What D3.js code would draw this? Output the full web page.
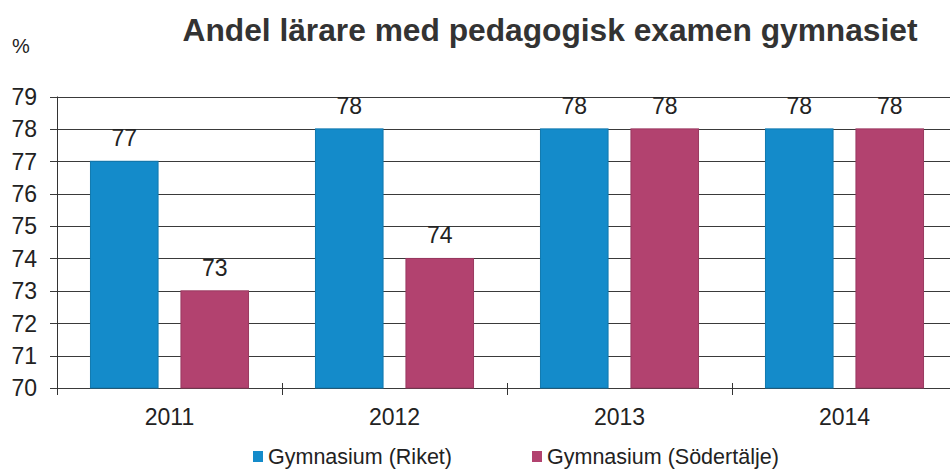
<!DOCTYPE html>
<html>
<head>
<meta charset="utf-8">
<script src="https://cdn.jsdelivr.net/npm/d3@7/dist/d3.min.js"></script>
<style>
  html, body { margin: 0; padding: 0; background: #fff; }
  svg { display: block; font-family: Arial, "Liberation Sans", sans-serif; }
</style>
</head>
<body>
<svg id="chart" width="950" height="472"></svg>
<script>
const years = ["2011", "2012", "2013", "2014"];
const seriesNames = ["Gymnasium (Riket)", "Gymnasium (Södertälje)"];
const riket = [77, 78, 78, 78];
const sodertalje = [73, 74, 78, 78];
const yTicks = [70, 71, 72, 73, 74, 75, 76, 77, 78, 79];
const colors = ["#148bca", "#b2426f"];
const title = "Andel lärare med pedagogisk examen gymnasiet";

(function () {
const svg = d3.select("#chart");
const pLeft = 57, pRight = 957, pTop = 96.5, pBottom = 388;

const x = d3.scaleBand().domain(years).range([pLeft, pRight]).paddingInner(0).paddingOuter(0);
const xs = d3.scaleBand().domain(seriesNames).range([0, x.bandwidth()]).paddingInner(0.253).paddingOuter(0.37);
const y = d3.scaleLinear().domain([70, 79]).range([pBottom, pTop]);

// gridlines
svg.append("g").selectAll("line").data(yTicks).join("line")
  .attr("x1", pLeft - 7).attr("x2", 950)
  .attr("y1", d => Math.round(y(d)) + 0.5).attr("y2", d => Math.round(y(d)) + 0.5)
  .attr("stroke", "#3a3a3a").attr("stroke-width", 1);

// y axis line
svg.append("line").attr("x1", pLeft + 0.5).attr("x2", pLeft + 0.5)
  .attr("y1", pTop).attr("y2", pBottom + 7).attr("stroke", "#333");

// x category tick marks
svg.append("g").selectAll("line").data(years.slice(1)).join("line")
  .attr("x1", d => Math.round(x(d)) + 0.5).attr("x2", d => Math.round(x(d)) + 0.5)
  .attr("y1", pBottom - 5).attr("y2", pBottom + 7).attr("stroke", "#333");

// y labels
svg.append("g").selectAll("text").data(yTicks).join("text")
  .attr("x", 37).attr("y", d => y(d)).attr("dy", "0.36em")
  .attr("text-anchor", "end").attr("font-size", 23).attr("fill", "#222")
  .text(d => d);

// bars
const data = [];
years.forEach((yr, i) => {
  data.push({ yr, s: seriesNames[0], v: riket[i], c: colors[0] });
  data.push({ yr, s: seriesNames[1], v: sodertalje[i], c: colors[1] });
});
svg.append("g").selectAll("rect").data(data).join("rect")
  .attr("x", d => x(d.yr) + xs(d.s))
  .attr("width", xs.bandwidth())
  .attr("y", d => y(d.v))
  .attr("height", d => y(70) - y(d.v))
  .attr("fill", d => d.c)
  .attr("stroke", d => d3.color(d.c).darker(0.4))
  .attr("stroke-width", 1);

// value labels
svg.append("g").selectAll("text").data(data).join("text")
  .attr("x", d => x(d.yr) + xs(d.s) + xs.bandwidth() / 2)
  .attr("y", d => y(d.v) - 15)
  .attr("text-anchor", "middle").attr("font-size", 23).attr("fill", "#222")
  .text(d => d.v);

// x labels
svg.append("g").selectAll("text").data(years).join("text")
  .attr("x", d => x(d) + x.bandwidth() / 2)
  .attr("y", 425)
  .attr("text-anchor", "middle").attr("font-size", 23).attr("fill", "#222")
  .text(d => d);

// title
svg.append("text").attr("x", 550).attr("y", 41).attr("text-anchor", "middle")
  .attr("font-size", 31).attr("font-weight", "bold").attr("fill", "#333")
  .attr("textLength", 735).attr("lengthAdjust", "spacingAndGlyphs")
  .text(title);

// percent
svg.append("text").attr("x", 12).attr("y", 53).attr("font-size", 20).attr("fill", "#222").text("%");

// legend
const legendX = [253, 532];
const lg = svg.append("g").selectAll("g").data(seriesNames).join("g")
  .attr("transform", (d, i) => `translate(${legendX[i]},451)`);
lg.append("rect").attr("width", 10).attr("height", 11).attr("fill", (d, i) => colors[i]);
lg.append("text").attr("x", 15).attr("y", 12.5).attr("font-size", 21.5).attr("fill", "#222").text(d => d);
})();
</script>
</body>
</html>
